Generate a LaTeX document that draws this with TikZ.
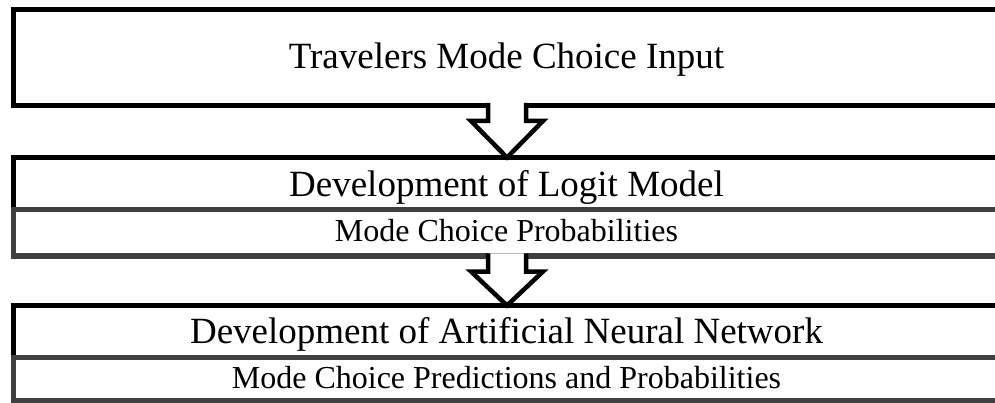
\documentclass[tikz,border=0pt]{standalone}
\usepackage{fontspec}
\setmainfont{Liberation Serif}
\usetikzlibrary{calc}

% block arrow from the bottom of one frame to the top of the next;
% the path is left open at the top so the white fill cuts the frame line
\newcommand\flowarrow[2]{%
  \filldraw[flow] let \p1=(#1), \p2=(#2) in
    (\x1-19pt,\y1+2.5pt) -- (\x1-19pt,\y1-15.5pt) -- (\x1-36pt,\y1-15.5pt)
    -- (\x1,\y2) -- (\x1+36pt,\y1-15.5pt) -- (\x1+19pt,\y1-15.5pt)
    -- (\x1+19pt,\y1+2.5pt);%
}

\begin{document}
\begin{tikzpicture}[x=1pt,y=-1pt,
  frame/.style={draw=black, line width=5pt, rectangle, inner sep=0pt,
                outer sep=0pt, minimum width=987pt},
  subframe/.style={frame, draw=black!75},
  bigtext/.style={font=\fontsize{37}{40}\selectfont, inner sep=0pt, anchor=base},
  smalltext/.style={font=\fontsize{32}{36}\selectfont, inner sep=0pt, anchor=base},
  flow/.style={draw=black, line width=4.5pt, line join=miter, fill=white}
]
\useasboundingbox (0,0) rectangle (995,403);

% frames
\node[frame, minimum height=96pt]     (input)    at (507,57.5)   {};
\node[frame, minimum height=52.5pt]   (logit)    at (507,183.75) {};
\node[subframe, minimum height=46pt]  (logitout) at (507,233)    {};
\node[frame, minimum height=51.5pt]   (ann)      at (507,331.25) {};
\node[subframe, minimum height=43pt]  (annout)   at (507,378.5)  {};

% texts
\node[bigtext]   (inputtxt)    at (506.5,69)  {Travelers Mode Choice Input};
\node[bigtext]   (logittxt)    at (506.5,197) {Development of Logit Model};
\node[smalltext] (logitouttxt) at (506.5,242) {Mode Choice Probabilities};
\node[bigtext]   (anntxt)      at (506.5,343) {Development of Artificial Neural Network};
\node[smalltext] (annouttxt)   at (506.5,388) {Mode Choice Predictions and Probabilities};

% arrows between the stages
\flowarrow{input.south}{logit.north}
\flowarrow{logitout.south}{ann.north}
\end{tikzpicture}
\end{document}
